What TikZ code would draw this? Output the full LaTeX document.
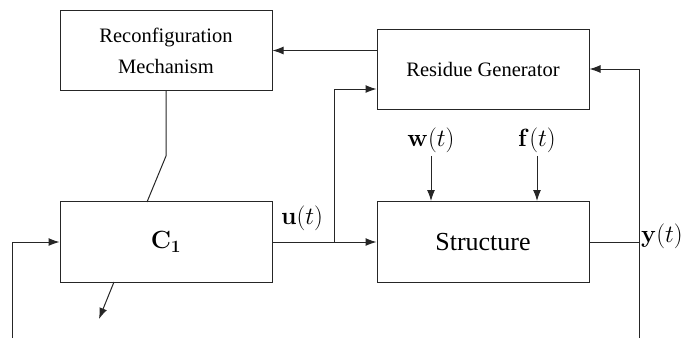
\documentclass[tikz,border=0pt]{standalone}
\usepackage[no-math]{fontspec}
\setmainfont{Liberation Serif}
\usetikzlibrary{arrows.meta}
\begin{document}
\begin{tikzpicture}[x=1pt,y=-1pt,
  blk/.style={draw=black!85,line width=1pt,minimum width=212pt,minimum height=80pt,inner sep=0pt},
  ln/.style={draw=black!85,line width=1pt},
  arr/.style={ln,-{Latex[length=11pt,width=8pt]}},
  bigtxt/.style={font=\fontsize{26}{30}\selectfont},
  smalltxt/.style={font=\fontsize{20.5}{31}\selectfont,align=center}]
\useasboundingbox (0,0) rectangle (691,338);
\node[blk,smalltxt] (rm) at (166,50.5) {Reconfiguration\\Mechanism};
\node[blk,smalltxt] (rg) at (483,69) {Residue Generator};
\node[blk,bigtxt,minimum height=81pt] (c1) at (166,242) {$\mathbf{C_1}$};
\node[blk,bigtxt,minimum height=81pt] (st) at (483,242) {Structure};
\node[bigtxt] (u) at (302,218) {$\mathbf{u}(t)$};
\node[bigtxt] (w) at (431,140) {$\mathbf{w}(t)$};
\node[bigtxt] (f) at (537,140) {$\mathbf{f}(t)$};
\node[bigtxt,anchor=west,inner sep=0pt] (y) at (641,236) {$\mathbf{y}(t)$};
% coordinates
\coordinate (k) at (166,156);
\coordinate (kb) at (147,202);
\coordinate (lo1) at (114,282);
\coordinate (lo2) at (99,319);
\coordinate (fb0) at (12,338);
\coordinate (fb1) at (12,242);
\coordinate (br) at (334,242);
\coordinate (br1) at (334,89);
\coordinate (yb) at (639,242);
\coordinate (y0) at (639,338);
\coordinate (y1) at (639,69);
\coordinate (wa) at (431,201);
\coordinate (fa) at (537,201);
% connectors
\draw[ln] (rm.south) -- (k) -- (kb);
\draw[arr] (lo1) -- (lo2);
\draw[arr] (fb0) -- (fb1) -- (c1.west);
\draw[arr] (c1.east) -- (st.west);
\draw[arr] (br) -- (br1) -- (rg.west |- br1);
\draw[arr] (rg.west |- rm.east) -- (rm.east);
\draw[ln] (st.east) -- (yb);
\draw[arr] (y0) -- (y1) -- (rg.east);
\draw[arr] (w.south) -- (wa);
\draw[arr] (f.south) -- (fa);
\end{tikzpicture}
\end{document}
